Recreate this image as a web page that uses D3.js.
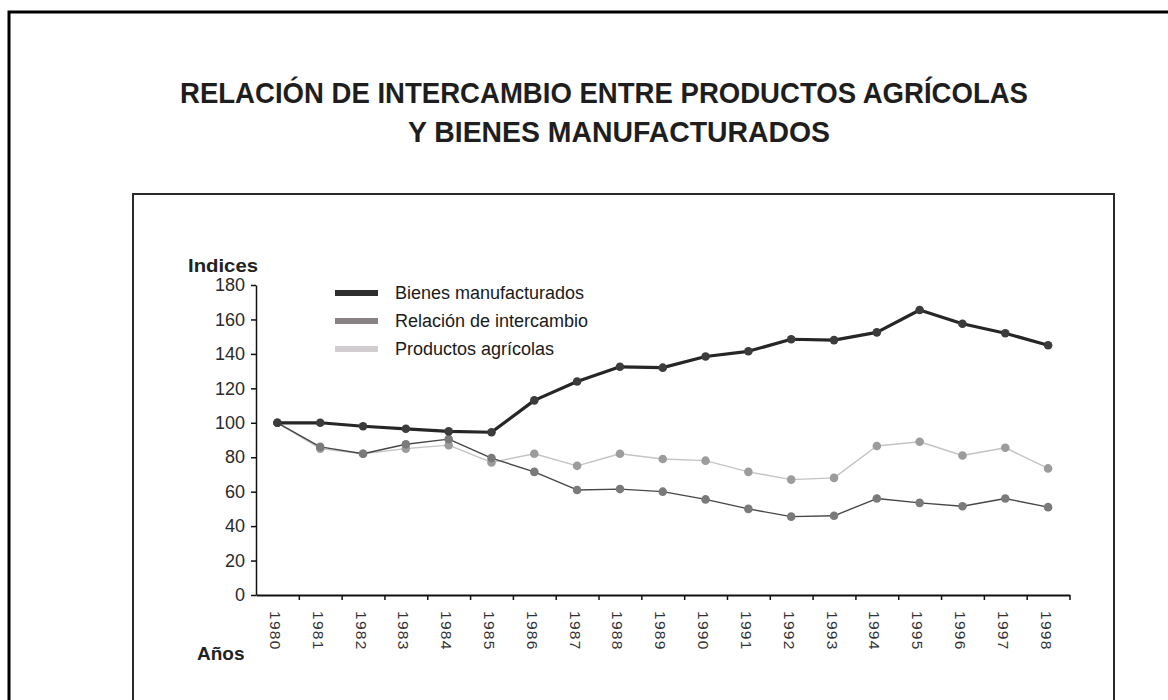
<!DOCTYPE html>
<html>
<head>
<meta charset="utf-8">
<script src="https://cdn.jsdelivr.net/npm/d3@7"></script>
<style>
  html, body { margin: 0; padding: 0; background: #fff; }
  svg { display: block; }
</style>
</head>
<body>
<svg id="chart" width="1168" height="700"></svg>
<script>
// ---- Data ----
const years = ["1980","1981","1982","1983","1984","1985","1986","1987","1988","1989",
               "1990","1991","1992","1993","1994","1995","1996","1997","1998"];
const bienesManufacturados = [100, 100, 98, 96.5, 95, 94.5, 113, 124, 132.5, 132, 138.5, 141.5, 148.5, 148, 152.5, 165.5, 157.5, 152, 145];
const relacionIntercambio  = [100, 86, 82, 87.5, 90.5, 79.5, 71.5, 61, 61.5, 60, 55.5, 50, 45.5, 46, 56, 53.5, 51.5, 56, 51];
const productosAgricolas   = [100, 85, 82, 85, 87, 77, 82, 75, 82, 79, 78, 71.5, 67, 68, 86.5, 89, 81, 85.5, 73.5];
const yTicks = [0, 20, 40, 60, 80, 100, 120, 140, 160, 180];
const seriesNames = ["Bienes manufacturados", "Relación de intercambio", "Productos agrícolas"];
const titleLines = ["RELACIÓN DE INTERCAMBIO ENTRE PRODUCTOS AGRÍCOLAS", "Y BIENES MANUFACTURADOS"];

// ---- Styles ----
const styles = [
  { line: "#262626", width: 3.2, dot: "#3c3c3c", swatch: "#2e2e2e" },
  { line: "#474747", width: 1.4, dot: "#7a7a7a", swatch: "#8a8385" },
  { line: "#c4c4c4", width: 1.4, dot: "#9c9c9c", swatch: "#d2cdd0" }
];
const seriesData = [bienesManufacturados, relacionIntercambio, productosAgricolas];

const svg = d3.select("#chart");
const narrow = "'Liberation Sans Narrow', 'Arial Narrow', 'Liberation Sans', Arial, sans-serif";
const sans = "'Liberation Sans', Arial, sans-serif";

// frames
svg.append("rect").attr("x", 9).attr("y", 12).attr("width", 1180).attr("height", 720)
  .attr("fill", "none").attr("stroke", "#000").attr("stroke-width", 3);
svg.append("rect").attr("x", 133).attr("y", 194).attr("width", 981).attr("height", 600)
  .attr("fill", "none").attr("stroke", "#2a2a2a").attr("stroke-width", 2);

// title
const titlePos = [{ x: 180, y: 103, w: 848 }, { x: 408, y: 142, w: 422 }];
svg.selectAll("text.title").data(titleLines).join("text")
  .attr("class", "title")
  .attr("x", (d, i) => titlePos[i].x)
  .attr("y", (d, i) => titlePos[i].y)
  .attr("textLength", (d, i) => titlePos[i].w)
  .attr("lengthAdjust", "spacingAndGlyphs")
  .attr("font-family", narrow).attr("font-weight", "bold").attr("font-size", 30)
  .attr("fill", "#1e1e1e")
  .text(d => d);

// scales
const x = d3.scaleBand().domain(years).range([256, 1069.5]).padding(0);
const xEdges = d3.scaleLinear().domain([0, years.length]).range([256, 1069.5]);
const y = d3.scaleLinear().domain([0, 180]).range([595, 285]);

// y axis
const gy = svg.append("g").attr("transform", "translate(256,0)")
  .call(d3.axisLeft(y).tickValues(yTicks).tickSize(5).tickPadding(6).tickSizeOuter(0));
gy.select(".domain").attr("stroke", "#111").attr("stroke-width", 1.5);
gy.selectAll(".tick line").attr("stroke", "#111").attr("stroke-width", 1.5);
gy.selectAll(".tick text").attr("font-family", narrow).attr("font-size", 18).attr("fill", "#2a2a2a");

// x axis: boundary ticks
const gx = svg.append("g").attr("transform", "translate(0,595)")
  .call(d3.axisBottom(xEdges).tickValues(d3.range(1, years.length + 1)).tickSize(5).tickFormat("").tickSizeOuter(0));
gx.select(".domain").attr("stroke", "#111").attr("stroke-width", 1.8);
gx.selectAll(".tick line").attr("stroke", "#111").attr("stroke-width", 1.5);

// x labels
const gxl = svg.append("g").attr("transform", "translate(0,595)")
  .call(d3.axisBottom(x).tickSize(0).tickPadding(0));
gxl.select(".domain").remove();
gxl.selectAll(".tick text")
  .attr("font-family", sans).attr("font-size", 15.5).attr("fill", "#333")
  .attr("letter-spacing", 1.3)
  .attr("text-anchor", "start")
  .attr("dy", "0.35em")
  .attr("transform", "translate(-2,16) rotate(90)")
  .attr("y", 0).attr("x", 0);

// axis titles
svg.append("text").attr("x", 188).attr("y", 272)
  .attr("font-family", sans).attr("font-weight", "bold").attr("font-size", 19)
  .attr("textLength", 70).attr("lengthAdjust", "spacingAndGlyphs")
  .attr("fill", "#222").text("Indices");
svg.append("text").attr("x", 197).attr("y", 660)
  .attr("font-family", sans).attr("font-weight", "bold").attr("font-size", 19)
  .attr("fill", "#222").text("Años");

// lines
const line = d3.line().x((d, i) => x(years[i]) + x.bandwidth() / 2).y(d => y(d));
const order = [2, 1, 0];
order.forEach(k => {
  const g = svg.append("g");
  g.append("path").datum(seriesData[k]).attr("d", line)
    .attr("fill", "none").attr("stroke", styles[k].line).attr("stroke-width", styles[k].width)
    .attr("stroke-linejoin", "round");
  g.selectAll("circle").data(seriesData[k]).join("circle")
    .attr("cx", (d, i) => x(years[i]) + x.bandwidth() / 2)
    .attr("cy", d => y(d))
    .attr("r", 4.3)
    .attr("fill", styles[k].dot);
});

// legend
const legendY = [293, 321, 349];
const lg = svg.append("g");
seriesNames.forEach((name, i) => {
  lg.append("rect").attr("x", 335).attr("y", legendY[i] - 3).attr("width", 43).attr("height", 6)
    .attr("fill", styles[i].swatch);
  lg.append("text").attr("x", 395).attr("y", legendY[i]).attr("dy", "0.35em")
    .attr("font-family", sans).attr("font-size", 18).attr("fill", "#1a1a1a")
    .text(name);
});
</script>
</body>
</html>
